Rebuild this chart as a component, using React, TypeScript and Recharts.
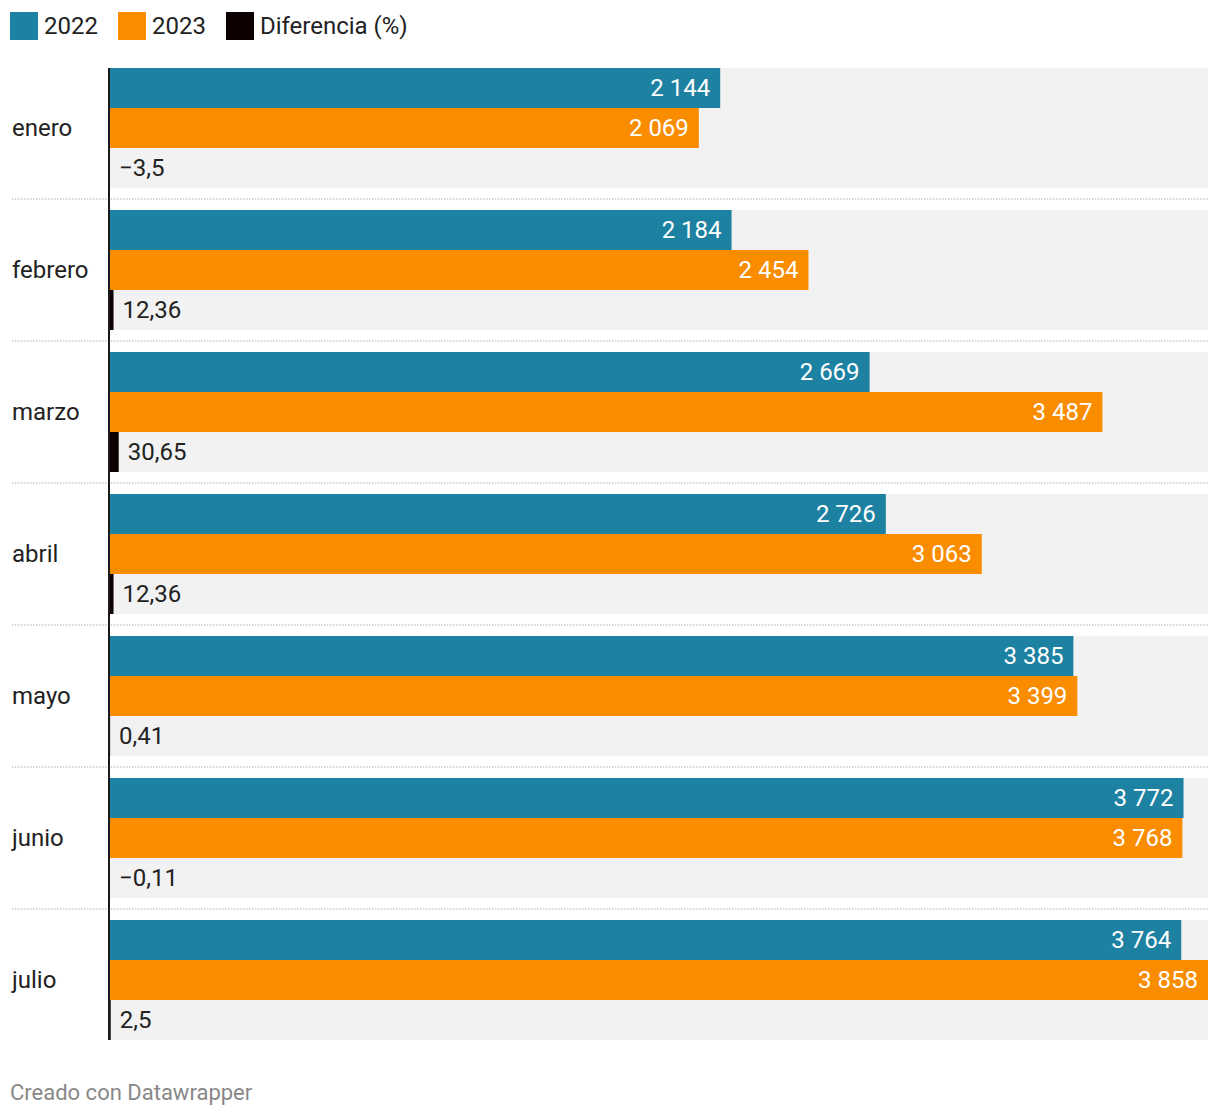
import React from 'react';
import { BarChart, Bar, XAxis, YAxis, LabelList } from 'recharts';

const months = ['enero', 'febrero', 'marzo', 'abril', 'mayo', 'junio', 'julio'];
const values2022 = [2144, 2184, 2669, 2726, 3385, 3772, 3764];
const values2023 = [2069, 2454, 3487, 3063, 3399, 3768, 3858];
const diffPct = [-3.5, 12.36, 30.65, 12.36, 0.41, -0.11, 2.5];
const seriesKeys = ['v2022', 'v2023', 'diff'];
const seriesNames = ['2022', '2023', 'Diferencia (%)'];
const seriesColors = ['#1d81a2', '#fa8c00', '#0d0000'];
const footerText = 'Creado con Datawrapper';

const data = months.map((m, i) => ({
  month: m,
  v2022: values2022[i],
  v2023: values2023[i],
  diff: diffPct[i],
}));

const W = 1220;
const H = 1118;
const PLOT_TOP = 57;
const PLOT_BOTTOM = 1051;
const PLOT_LEFT = 110;
const PLOT_RIGHT = 1208;
const BAND = (PLOT_BOTTOM - PLOT_TOP) / months.length;
const BAR = 40;
const GAP = (BAND - 3 * BAR) / 2;
const FONT = 'Roboto, "Noto Sans", sans-serif';
const FS = 24;

const maxVal = Math.max(...values2022, ...values2023);

const fmtInt = (v: number) => String(v).replace(/\B(?=(\d{3})+(?!\d))/g, ' ');
const fmtPct = (v: number) => (v < 0 ? '\u2212' : '') + String(Math.abs(v)).replace('.', ',');

const renderTick = (props: any) => {
  const { y, payload, index } = props;
  return (
    <g>
      {index === 0 && (
        <g>
          {months.slice(1).map((_, i) => {
            const yy = y - BAND / 2 + (i + 1) * BAND;
            return (
              <line
                key={i}
                x1={12}
                x2={PLOT_RIGHT}
                y1={yy}
                y2={yy}
                stroke="#c8c8c8"
                strokeWidth={1.5}
                strokeDasharray="1.5 1.5"
              />
            );
          })}
          <line
            x1={109}
            x2={109}
            y1={y - BAND / 2 + GAP}
            y2={y - BAND / 2 + months.length * BAND - GAP}
            stroke="#1a1a1a"
            strokeWidth={2}
          />
        </g>
      )}
      <text x={12} y={y} dominantBaseline="central" fontSize={FS} fill="#222" fontFamily={FONT}>
        {payload.value}
      </text>
    </g>
  );
};

const renderInside = (props: any) => {
  const { x, y, width, height, value } = props;
  const right = Math.max(x, x + width);
  return (
    <text
      x={right - 10}
      y={y + height / 2}
      textAnchor="end"
      dominantBaseline="central"
      fontSize={FS}
      fill="#ffffff"
      fontFamily={FONT}
    >
      {fmtInt(value)}
    </text>
  );
};

const renderDiff = (props: any) => {
  const { x, y, width, height, value } = props;
  const right = Math.max(x, x + width);
  return (
    <text
      x={right + 9}
      y={y + height / 2}
      textAnchor="start"
      dominantBaseline="central"
      fontSize={FS}
      fill="#222"
      fontFamily={FONT}
    >
      {fmtPct(value)}
    </text>
  );
};

export default function App() {
  return (
    <div style={{ position: 'absolute', left: 0, top: 0, width: W, height: H, background: '#fff', fontFamily: FONT }}>
      <div style={{ position: 'absolute', left: 0, top: 0 }}>
        <BarChart
          width={W}
          height={H}
          data={data}
          layout="vertical"
          margin={{ top: PLOT_TOP, right: W - PLOT_RIGHT, bottom: H - PLOT_BOTTOM, left: 10 }}
          barGap={0}
          barCategoryGap={GAP}
        >
          <XAxis type="number" hide domain={[0, maxVal]} allowDataOverflow />
          <YAxis
            type="category"
            dataKey="month"
            width={PLOT_LEFT - 10}
            axisLine={false}
            tickLine={false}
            interval={0}
            tick={renderTick}
          />
          {seriesKeys.map((k, i) => (
            <Bar
              key={k}
              dataKey={k}
              name={seriesNames[i]}
              fill={seriesColors[i]}
              barSize={BAR}
              background={{ fill: '#f2f2f2' }}
              isAnimationActive={false}
            >
              <LabelList dataKey={k} content={i < 2 ? renderInside : renderDiff} />
            </Bar>
          ))}
        </BarChart>
      </div>
      <div style={{ position: 'absolute', left: 10, top: 12, display: 'flex', alignItems: 'center', height: 28 }}>
        {seriesNames.map((n, i) => (
          <div key={n} style={{ display: 'flex', alignItems: 'center', marginRight: 20 }}>
            <div style={{ width: 28, height: 28, background: seriesColors[i], marginRight: 6 }} />
            <span style={{ fontSize: FS, color: '#222', lineHeight: '28px' }}>{n}</span>
          </div>
        ))}
      </div>
      <div style={{ position: 'absolute', left: 10, top: 1079, fontSize: 22, color: '#888', lineHeight: '28px' }}>
        {footerText}
      </div>
    </div>
  );
}
